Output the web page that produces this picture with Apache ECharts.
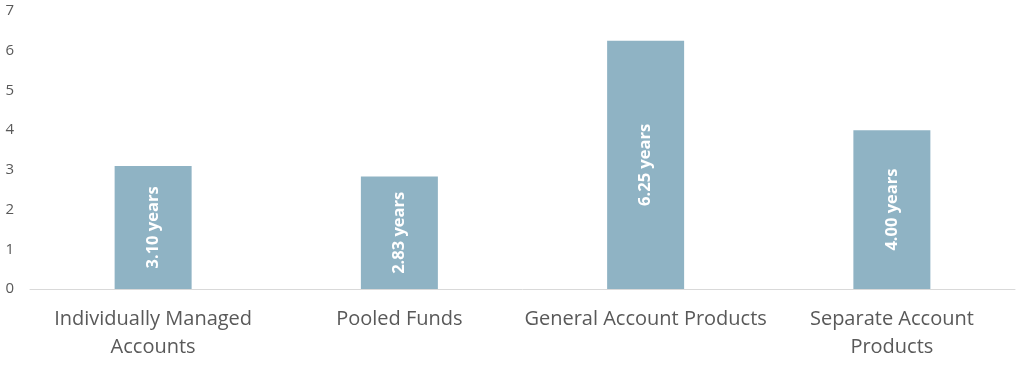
<!DOCTYPE html>
<html><head><meta charset="utf-8">
<script src="https://cdn.jsdelivr.net/npm/echarts@6/dist/echarts.min.js"></script>
<style>html,body{margin:0;padding:0;background:#fff}#c{width:1024px;height:369px}</style>
</head><body><div id="c"></div>
<script>
var categories = ['Individually Managed\nAccounts', 'Pooled Funds', 'General Account Products', 'Separate Account\nProducts'];
var values = [3.10, 2.83, 6.25, 4.00];
var yTicks = [0, 1, 2, 3, 4, 5, 6, 7];

var chart = echarts.init(document.getElementById('c'));
chart.setOption({
  animation: false,
  grid: {left: 30, right: 9, top: 11, bottom: 80},
  xAxis: {
    type: 'category', data: categories,
    axisLine: {lineStyle: {color: '#d9d9d9', width: 1}},
    axisTick: {show: false},
    axisLabel: {color: '#595959', fontFamily: 'Open Sans', fontSize: 20, lineHeight: 28, margin: 16, interval: 0}
  },
  yAxis: {
    type: 'value', min: yTicks[0], max: yTicks[yTicks.length - 1], interval: 1,
    splitLine: {show: false},
    axisLine: {show: false}, axisTick: {show: false},
    axisLabel: {color: '#595959', fontFamily: 'Open Sans', fontSize: 15, margin: 16}
  },
  series: [{
    type: 'bar', data: values, barWidth: 77,
    itemStyle: {color: '#8fb3c4'},
    label: {
      show: true, position: 'inside', rotate: 90,
      formatter: function (p) { return p.value.toFixed(2) + ' years'; },
      color: '#fff', fontWeight: 'bold', fontFamily: 'Open Sans', fontSize: 16.5
    }
  }]
});
</script></body></html>
